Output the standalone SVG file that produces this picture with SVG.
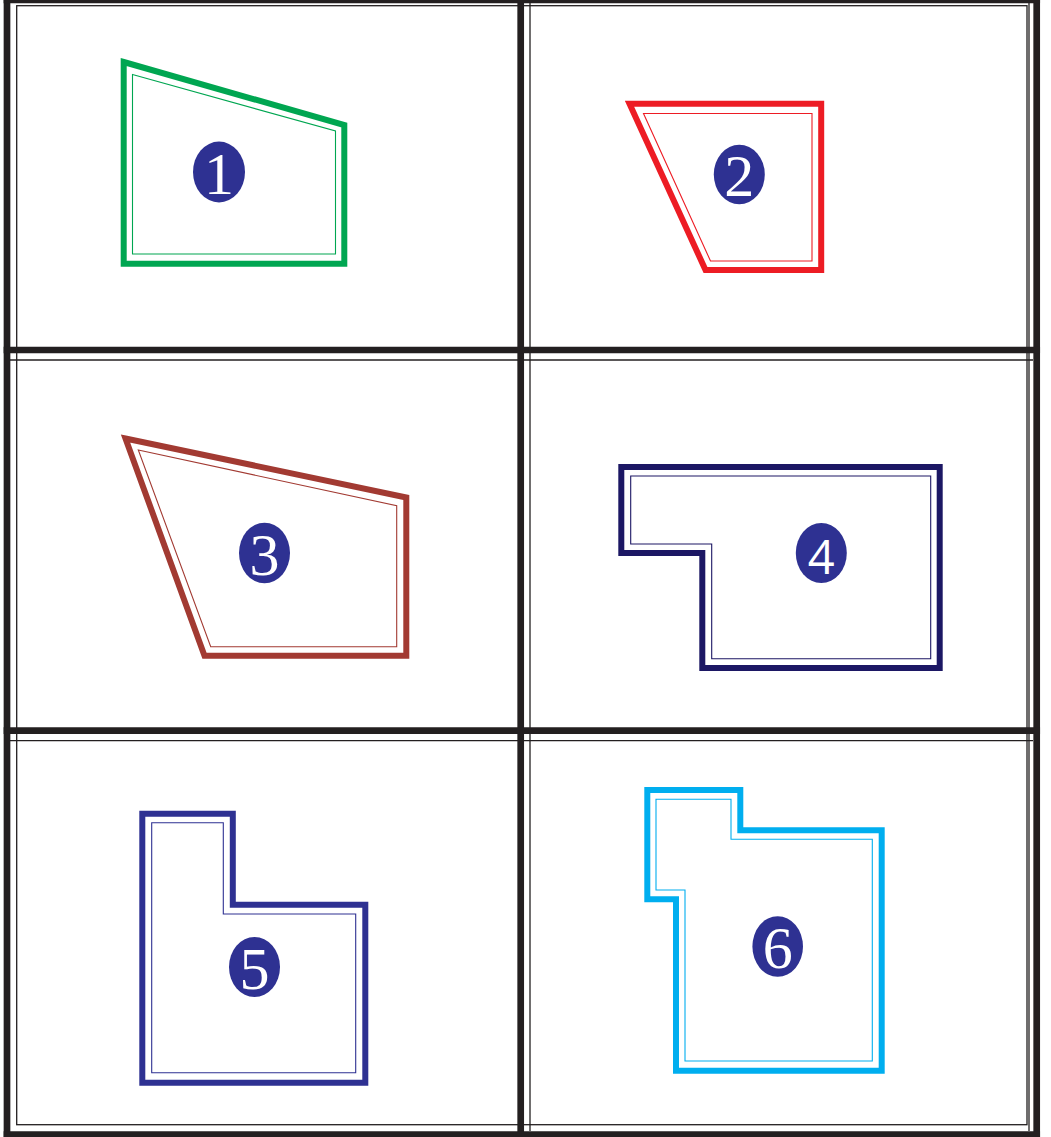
<svg xmlns="http://www.w3.org/2000/svg" width="1051" height="1137" viewBox="0 0 1051 1137">
<style>
.thick{stroke:#231F20;stroke-width:6.7;fill:none}
.thin{stroke:#231F20;stroke-width:1.3;fill:none}
.o{fill:none;stroke-width:6;stroke-linejoin:miter}
.i{fill:none;stroke-width:1.1;stroke-linejoin:miter}
.badge{fill:#2E3192}
.num{fill:#FFFFFF;font-family:"Liberation Serif","Times New Roman",serif;font-size:60px;text-anchor:middle}
.num4{fill:#FFFFFF;font-family:"Open Sans","Liberation Sans",sans-serif;font-size:47px;text-anchor:middle}
</style>
<rect width="1051" height="1137" fill="#FFFFFF"/>
<g id="grid">
<rect class="thin" x="16.7" y="5.7" width="1010.3" height="1119"/>
<line class="thin" x1="1029" y1="3" x2="1029" y2="1131"/>
<line class="thin" x1="530" y1="3" x2="530" y2="1131"/>
<line class="thin" x1="10" y1="360" x2="1033" y2="360"/>
<line class="thin" x1="10" y1="740.7" x2="1033" y2="740.7"/>
<line class="thick" x1="7" y1="0" x2="7" y2="1137"/>
<line class="thick" x1="520.7" y1="0" x2="520.7" y2="1137"/>
<line class="thick" x1="1036.7" y1="0" x2="1036.7" y2="1137"/>
<line class="thick" x1="3.65" y1="0" x2="1040.05" y2="0"/>
<line class="thick" x1="3.65" y1="350" x2="1040.05" y2="350"/>
<line class="thick" x1="3.65" y1="730.7" x2="1040.05" y2="730.7"/>
<line class="thick" x1="3.65" y1="1134.5" x2="1040.05" y2="1134.5"/>
</g>
<g id="room1">
<polygon class="o" stroke="#00A651" points="123.7,62 344.3,125 344.3,263.7 123.7,263.7"/>
<polygon class="i" stroke="#00A651" points="132.5,74.5 335.5,131 335.5,254 132.5,254"/>
<ellipse class="badge" cx="219" cy="172" rx="26" ry="30.4"/>
<text class="num" x="219" y="193.5">1</text>
</g>
<g id="room2">
<polygon class="o" stroke="#ED1C24" points="629.5,103.8 821.2,103.8 821.2,270 705.5,270"/>
<polygon class="i" stroke="#ED1C24" points="643.5,113.5 812,113.5 812,261 710.5,261"/>
<ellipse class="badge" cx="739.3" cy="174.5" rx="25.5" ry="29.8"/>
<text class="num" x="739.3" y="196">2</text>
</g>
<g id="room3">
<polygon class="o" stroke="#A23A32" points="125.5,438.5 406.3,497.5 406.3,655.7 204.5,655.7"/>
<polygon class="i" stroke="#A23A32" points="138.3,450 396.7,505.7 396.7,646.7 210.7,646.7"/>
<ellipse class="badge" cx="264.5" cy="553" rx="25.5" ry="30.3"/>
<text class="num" x="264.5" y="574.5">3</text>
</g>
<g id="room4">
<polygon class="o" stroke="#1C1764" points="621.3,467 939.7,467 939.7,668 702.3,668 702.3,553 621.3,553"/>
<polygon class="i" stroke="#1C1764" points="630.7,476 930.7,476 930.7,658.7 711.7,658.7 711.7,544 630.7,544"/>
<ellipse class="badge" cx="821.3" cy="553" rx="25.5" ry="30"/>
<text class="num4" x="821.3" y="573.5">4</text>
</g>
<g id="room5">
<polygon class="o" stroke="#2E3192" points="142.3,813.8 232.8,813.8 232.8,904.7 365.3,904.7 365.3,1082.8 142.3,1082.8"/>
<polygon class="i" stroke="#2E3192" points="151.7,822.7 223.3,822.7 223.3,914 355.7,914 355.7,1072.7 151.7,1072.7"/>
<ellipse class="badge" cx="254.5" cy="967" rx="25.5" ry="30"/>
<text class="num" x="254.5" y="988.5">5</text>
</g>
<g id="room6">
<polygon class="o" stroke="#00AEEF" points="647.3,790 740.3,790 740.3,830.3 881.7,830.3 881.7,1070.7 676,1070.7 676,899.3 647.3,899.3"/>
<polygon class="i" stroke="#00AEEF" points="656,799.3 731,799.3 731,839.3 872.3,839.3 872.3,1061 685,1061 685,890 656,890"/>
<ellipse class="badge" cx="777.7" cy="946.5" rx="25.3" ry="30.3"/>
<text class="num" x="777.7" y="968">6</text>
</g>
</svg>
